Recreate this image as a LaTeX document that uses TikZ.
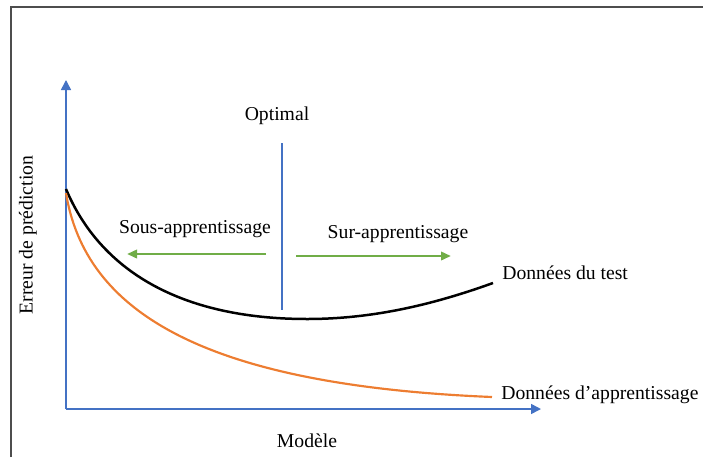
\documentclass[tikz,border=0pt]{standalone}
\usepackage{fontspec}
\setmainfont{Liberation Serif}
\usetikzlibrary{arrows.meta}

\definecolor{axe}{HTML}{4472C4}
\definecolor{fleche}{HTML}{70AD47}
\definecolor{appr}{HTML}{ED7D31}
\definecolor{cadre}{HTML}{4D4D4D}

\begin{document}
\begin{tikzpicture}[x=0.6pt, y=-0.6pt, font=\fontsize{11.8}{14}\selectfont,
    axis/.style={axe, line width=0.9pt, -{Triangle[length=6pt,width=6pt]}},
    regime/.style={fleche, line width=1.7pt, -{Triangle[length=6pt,width=5pt]}},
    lbl/.style={inner sep=0pt}]
            \useasboundingbox (0,0) rectangle (703,457);

            % cadre
            \draw[cadre, line width=1.3pt] (11,457) -- (11,7) -- (703,7);

            % axes
            \coordinate (O) at (66,409);
            \coordinate (ymax) at (66,80);
            \coordinate (xmax) at (541,409);
            \draw[axis] (O) -- (ymax);
            \draw[axis] (O) -- (xmax);

            % courbes
            \coordinate (t0) at (66,189);
            \coordinate (tmin) at (307,319);
            \coordinate (t1) at (493,283);
            \draw[black, line width=1.5pt] (t0) .. controls (100,270) and (180,319) .. (tmin)
                .. controls (372,319) and (432,305) .. (t1);
            \coordinate (a0) at (66,193);
            \coordinate (a1) at (492,397);
            \draw[appr, line width=1.3pt] (a0) .. controls (85,310) and (200,385) .. (a1);

            % optimal
            \node[lbl] (opt) at (277,116) {Optimal};
            \coordinate (opthaut) at (282,143);
            \coordinate (optbas) at (282,310);
            \draw[axe, line width=0.9pt] (opthaut) -- (optbas);

            % regimes
            \node[lbl] (sous) at (195,229) {Sous-apprentissage};
            \node[lbl] (sur) at (398,234) {Sur-apprentissage};
            \coordinate (g1) at (266,254);
            \coordinate (g2) at (127,254);
            \coordinate (d1) at (296,256);
            \coordinate (d2) at (451,256);
            \draw[regime] (g1) -- (g2);
            \draw[regime] (d1) -- (d2);

            % legendes
            \node[lbl, anchor=west] (test) at (502,273) {Données du test};
            \node[lbl, anchor=west] (train) at (501,395) {Données d’apprentissage};
            \node[lbl] (modele) at (307,441) {Modèle};
            \node[lbl, rotate=90] (erreur) at (28,235) {Erreur de prédiction};
        \end{tikzpicture}
\end{document}
